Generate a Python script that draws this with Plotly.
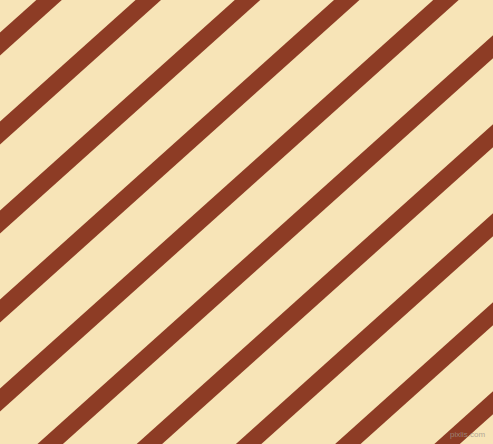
import plotly.graph_objects as go

# Stripe data: left-edge intercepts (pixels from top) and slope (dy/dx, screen coords)
stripe_intercepts = [44, 133, 222, 311, 400, 489, 578, 667, 756, 845]
stripe_slope = 0.897
x_span = [-60, 560]

bg_color = "#F7E4B7"
stripe_color = "#8D3C25"

fig = go.Figure()
for c in stripe_intercepts:
    ys = [c - stripe_slope * x for x in x_span]
    fig.add_trace(go.Scatter(
        x=x_span, y=ys, mode="lines",
        line=dict(color=stripe_color, width=17),
        hoverinfo="skip", showlegend=False,
    ))

fig.add_annotation(
    x=487, y=434, xref="x", yref="y", xanchor="right", yanchor="middle",
    text="pixlis.com", showarrow=False,
    font=dict(family="Liberation Sans", size=8, color="rgba(160,150,140,0.8)"),
)

fig.update_layout(
    width=493, height=444, autosize=False,
    margin=dict(l=0, r=0, t=0, b=0, pad=0),
    paper_bgcolor=bg_color, plot_bgcolor=bg_color,
    xaxis=dict(range=[0, 493], visible=False, fixedrange=True),
    yaxis=dict(range=[444, 0], visible=False, fixedrange=True),
)

fig.write_html(
    "out.html",
    config={"displayModeBar": False},
    post_script="document.body.style.margin='0';document.body.style.overflow='hidden';document.body.style.background='" + bg_color + "';",
)
